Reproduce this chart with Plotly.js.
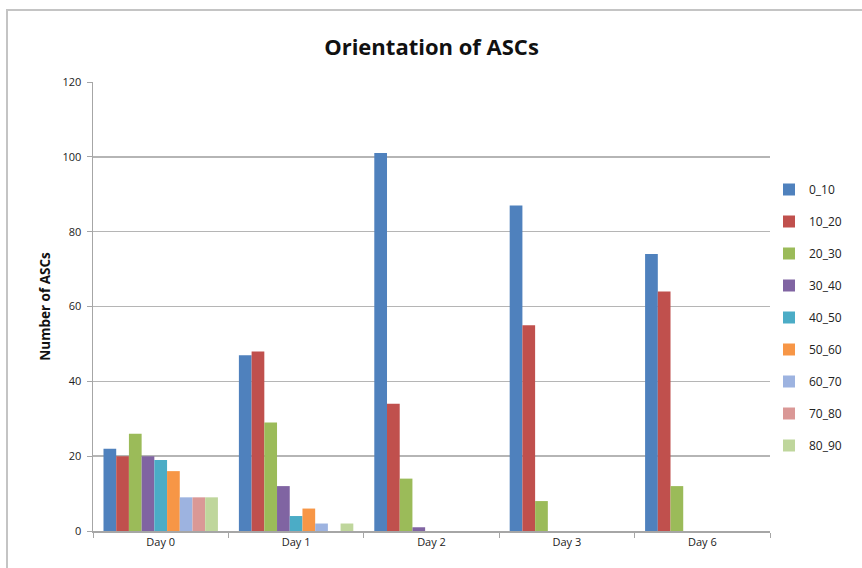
<!DOCTYPE html>
<html>
<head>
<meta charset="utf-8">
<script src="https://cdn.plot.ly/plotly-3.0.1.min.js"></script>
<style>html,body{margin:0;padding:0;background:#fff;}#chart{width:862px;height:568px;}</style>
</head>
<body>
<div id="chart"></div>
<script>
const categories = ["Day 0", "Day 1", "Day 2", "Day 3", "Day 6"];
const seriesNames = ["0_10", "10_20", "20_30", "30_40", "40_50", "50_60", "60_70", "70_80", "80_90"];
const s0_10  = [22, 47, 101, 87, 74];
const s10_20 = [20, 48, 34, 55, 64];
const s20_30 = [26, 29, 14, 8, 12];
const s30_40 = [20, 12, 1, 0, 0];
const s40_50 = [19, 4, 0, 0, 0];
const s50_60 = [16, 6, 0, 0, 0];
const s60_70 = [9, 2, 0, 0, 0];
const s70_80 = [9, 0, 0, 0, 0];
const s80_90 = [9, 2, 0, 0, 0];
const seriesValues = [s0_10, s10_20, s20_30, s30_40, s40_50, s50_60, s60_70, s70_80, s80_90];
const colors = ["#4F81BD", "#C0504D", "#9BBB59", "#8064A2", "#4BACC6", "#F79646", "#9DB3E0", "#DA9896", "#BFD69C"];

const traces = seriesNames.map((n, i) => ({
  type: "bar",
  name: n,
  x: categories,
  y: seriesValues[i],
  marker: {color: colors[i], line: {width: 0}},
  legendgroup: n,
  hoverinfo: "x+y+name"
}));

const L = 93, R = 770, T = 82, B = 531, W = 862, H = 568;
const pw = R - L, ph = B - T;
const px = v => (v - L) / pw;
const py = v => (B - v) / ph;

const layout = {
  width: W, height: H,
  margin: {l: L, r: W - R, t: T, b: H - B, pad: 0, autoexpand: false},
  paper_bgcolor: "#ffffff",
  plot_bgcolor: "#ffffff",
  font: {family: "Open Sans, Liberation Sans, sans-serif", color: "#333333", size: 11},
  title: {text: "<b>Orientation of ASCs</b>", x: 0.5, xref: "paper", y: 1 - 47 / H, yanchor: "middle",
          font: {size: 22, color: "#111111", family: "Open Sans, Liberation Sans, sans-serif"}},
  barmode: "group",
  bargap: 0.155,
  bargroupgap: 0,
  xaxis: {
    type: "category",
    showgrid: false,
    showline: true, linecolor: "#a6a6a6", linewidth: 1.5,
    ticks: "outside", tickson: "boundaries", ticklen: 5, tickcolor: "#a6a6a6", tickwidth: 1,
    tickfont: {size: 11, color: "#222222"},
    fixedrange: true
  },
  yaxis: {
    range: [0, 120],
    dtick: 20,
    showgrid: true, gridcolor: "#b5b5b5", gridwidth: 1.5,
    showline: true, linecolor: "#a6a6a6", linewidth: 1.5,
    ticks: "outside", ticklen: 5, tickcolor: "#a6a6a6",
    ticklabelstandoff: 3,
    tickfont: {size: 11, color: "#222222"},
    zeroline: false,
    title: {text: "<b>Number of ASCs</b>", font: {size: 13.5, color: "#111111"}, standoff: 8},
    fixedrange: true
  },
  legend: {
    xref: "container", yref: "container",
    x: 769 / W, xanchor: "left",
    y: 1 - 175 / H, yanchor: "top",
    font: {size: 12, color: "#222222"},
    tracegroupgap: 13,
    traceorder: "grouped",
    itemwidth: 30,
    bgcolor: "rgba(0,0,0,0)"
  },
  shapes: [{
    type: "rect", xref: "paper", yref: "paper",
    x0: px(7), x1: px(880), y0: py(590), y1: py(10),
    line: {color: "#c4c4c4", width: 2}, fillcolor: "rgba(0,0,0,0)", layer: "below"
  }]
};

Plotly.newPlot("chart", traces, layout, {displayModeBar: false, staticPlot: true});
</script>
</body>
</html>
